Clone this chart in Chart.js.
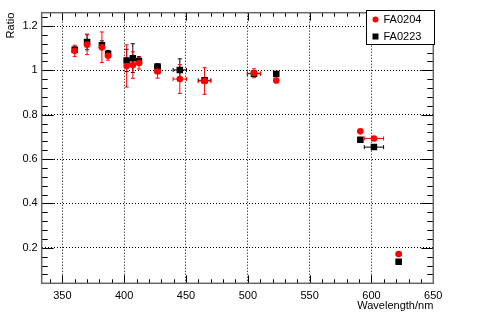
<!DOCTYPE html>
<html>
<head>
  <meta charset="UTF-8">
  <script src="https://cdn.jsdelivr.net/npm/chart.js@4.4.0/dist/chart.umd.min.js"></script>
  <style>
    body { margin: 0; background: #fff; }
    .wrap { width: 491px; height: 313px; }
  </style>
</head>
<body>
<div class="wrap"><canvas id="myChart" width="491" height="313"></canvas></div>
<script>
  // values
  const wavelength = [360, 370, 382, 387, 402, 407, 412, 427, 445, 465, 505, 523, 591, 602, 622];
  const wavelengthErr = [1.5, 1.5, 1.5, 1.5, 1.5, 1.5, 1.5, 2.3, 5.4, 5.1, 5.4, 1.5, 0.5, 7.8, 2];
  const fa0204 = [1.088, 1.116, 1.104, 1.066, 1.020, 1.024, 1.033, 0.995, 0.961, 0.952, 0.987, 0.954, 0.725, 0.693, 0.172];
  const fa0204Err = [0.025, 0.045, 0.069, 0.02, 0.095, 0.06, 0.027, 0.03, 0.065, 0.06, 0.02, 0.01, 0.004, 0.004, 0.004];
  const fa0223 = [1.093, 1.128, 1.113, 1.075, 1.045, 1.055, 1.042, 1.017, 1.002, 0.955, 0.985, 0.984, 0.687, 0.654, 0.137];
  const fa0223Err = [0.012, 0.035, 0.02, 0.015, 0.05, 0.065, 0.02, 0.012, 0.05, 0.01, 0.01, 0.01, 0.004, 0.004, 0.004];

  const xTicks = [350, 400, 450, 500, 550, 600, 650];
  const yTicks = [0.2, 0.4, 0.6, 0.8, 1, 1.2];
  const yTickLabels = ['0.2', '0.4', '0.6', '0.8', '1', '1.2'];
  const xTitle = 'Wavelength/nm';
  const yTitle = 'Ratio';

  const font = '11px "Liberation Sans", Arial, sans-serif';

  function points(ys, yerr) {
    return wavelength.map((x, i) => ({ x: x, y: ys[i], xe: wavelengthErr[i], ye: yerr[i] }));
  }

  // error bars with small end caps, drawn under the markers
  const errorBars = {
    id: 'errorBars',
    beforeDatasetsDraw(chart) {
      const ctx = chart.ctx;
      const xs = chart.scales.x, ys = chart.scales.y;
      const cap = 2;
      for (let d = chart.data.datasets.length - 1; d >= 0; d--) {
        const ds = chart.data.datasets[d];
        ctx.save();
        ctx.strokeStyle = ds.borderColor;
        ctx.lineWidth = 1;
        ds.data.forEach(p => {
          const px = xs.getPixelForValue(p.x), py = ys.getPixelForValue(p.y);
          const x0 = xs.getPixelForValue(p.x - p.xe), x1 = xs.getPixelForValue(p.x + p.xe);
          const y0 = ys.getPixelForValue(p.y - p.ye), y1 = ys.getPixelForValue(p.y + p.ye);
          ctx.beginPath();
          ctx.moveTo(x0, py); ctx.lineTo(x1, py);
          ctx.moveTo(x0, py - cap); ctx.lineTo(x0, py + cap);
          ctx.moveTo(x1, py - cap); ctx.lineTo(x1, py + cap);
          ctx.moveTo(px, y0); ctx.lineTo(px, y1);
          ctx.moveTo(px - cap, y0); ctx.lineTo(px + cap, y0);
          ctx.moveTo(px - cap, y1); ctx.lineTo(px + cap, y1);
          ctx.stroke();
        });
        ctx.restore();
      }
    }
  };

  // frame, inward ticks, axis titles and legend box
  const frame = {
    id: 'frame',
    afterDraw(chart) {
      const ctx = chart.ctx;
      const a = chart.chartArea;
      const xs = chart.scales.x, ys = chart.scales.y;
      ctx.save();
      ctx.strokeStyle = '#000';
      ctx.lineWidth = 1;
      ctx.beginPath();
      for (let v = 340; v <= 650; v += 10) {
        const px = Math.round(xs.getPixelForValue(v)) + 0.5;
        const len = v % 50 === 0 ? 8 : 4;
        ctx.moveTo(px, a.bottom); ctx.lineTo(px, a.bottom - len);
        ctx.moveTo(px, a.top); ctx.lineTo(px, a.top + len);
      }
      for (let i = 1; i <= 31; i++) {
        const v = i * 0.04;
        const py = Math.round(ys.getPixelForValue(v)) + 0.5;
        const len = i % 5 === 0 ? 12 : 6;
        ctx.moveTo(a.left, py); ctx.lineTo(a.left + len, py);
        ctx.moveTo(a.right, py); ctx.lineTo(a.right - len, py);
      }
      ctx.stroke();
      ctx.strokeStyle = '#666';
      ctx.lineWidth = 1.5;
      ctx.strokeRect(a.left, a.top, a.right - a.left, a.bottom - a.top);

      ctx.fillStyle = '#000';
      ctx.font = font;
      ctx.textAlign = 'right';
      ctx.textBaseline = 'middle';
      ctx.fillText(xTitle, a.right, 306);
      ctx.save();
      ctx.translate(11, a.top);
      ctx.rotate(-Math.PI / 2);
      ctx.textAlign = 'right';
      ctx.fillText(yTitle, 0, 0);
      ctx.restore();

      // legend
      const lx = 366.5, ly = 10.5, lw = 68, lh = 34;
      ctx.fillStyle = '#fff';
      ctx.fillRect(lx, ly, lw, lh);
      ctx.strokeStyle = '#000';
      ctx.lineWidth = 1;
      ctx.strokeRect(lx, ly, lw, lh);
      const ds = chart.data.datasets;
      ctx.textAlign = 'left';
      ds.forEach((d, i) => {
        const cy = ly + 9 + i * 17;
        ctx.fillStyle = d.backgroundColor;
        if (d.pointStyle === 'rect') {
          ctx.fillRect(lx + 6, cy - 3, 6, 6);
        } else {
          ctx.beginPath();
          ctx.arc(lx + 9, cy, 3, 0, Math.PI * 2);
          ctx.fill();
        }
        ctx.fillStyle = '#000';
        ctx.fillText(d.label, lx + 17, cy + 0.5);
      });
      ctx.restore();
    }
  };

  const ctx = document.getElementById('myChart').getContext('2d');
  const chart = new Chart(ctx, {
    type: 'scatter',
    data: {
      datasets: [{
        label: 'FA0204',
        data: points(fa0204, fa0204Err),
        backgroundColor: '#ff0000',
        borderColor: '#ff0000',
        pointStyle: 'circle',
        pointRadius: 3.3,
        borderWidth: 0
      }, {
        label: 'FA0223',
        data: points(fa0223, fa0223Err),
        backgroundColor: '#000000',
        borderColor: '#000000',
        pointStyle: 'rect',
        pointRadius: 4.6,
        borderWidth: 0
      }]
    },
    options: {
      responsive: false,
      animation: false,
      devicePixelRatio: 1,
      layout: { padding: { top: 12.7, right: 57.7, left: 0, bottom: 0 } },
      plugins: { legend: { display: false }, tooltip: { enabled: false } },
      scales: {
        x: {
          type: 'linear',
          min: 333.3,
          max: 650,
          afterFit: s => { s.height = 29.7; },
          afterBuildTicks: s => { s.ticks = xTicks.map(v => ({ value: v })); },
          grid: { color: '#000', lineWidth: 1, drawTicks: false },
          border: { display: false, dash: [1, 2] },
          ticks: {
            padding: 6,
            color: '#000',
            font: { family: '"Liberation Sans", Arial, sans-serif', size: 11 },
            maxRotation: 0,
            callback: v => String(v)
          }
        },
        y: {
          type: 'linear',
          min: 0.04,
          max: 1.26,
          afterFit: s => { s.width = 41.7; },
          afterBuildTicks: s => { s.ticks = yTicks.map(v => ({ value: v })); },
          grid: { color: '#000', lineWidth: 1, drawTicks: false },
          border: { display: false, dash: [1, 2] },
          ticks: {
            padding: 4,
            color: '#000',
            font: { family: '"Liberation Sans", Arial, sans-serif', size: 11 },
            callback: (v) => yTickLabels[yTicks.indexOf(v)] ?? ''
          }
        }
      }
    },
    plugins: [errorBars, frame]
  });
</script>
</body>
</html>
